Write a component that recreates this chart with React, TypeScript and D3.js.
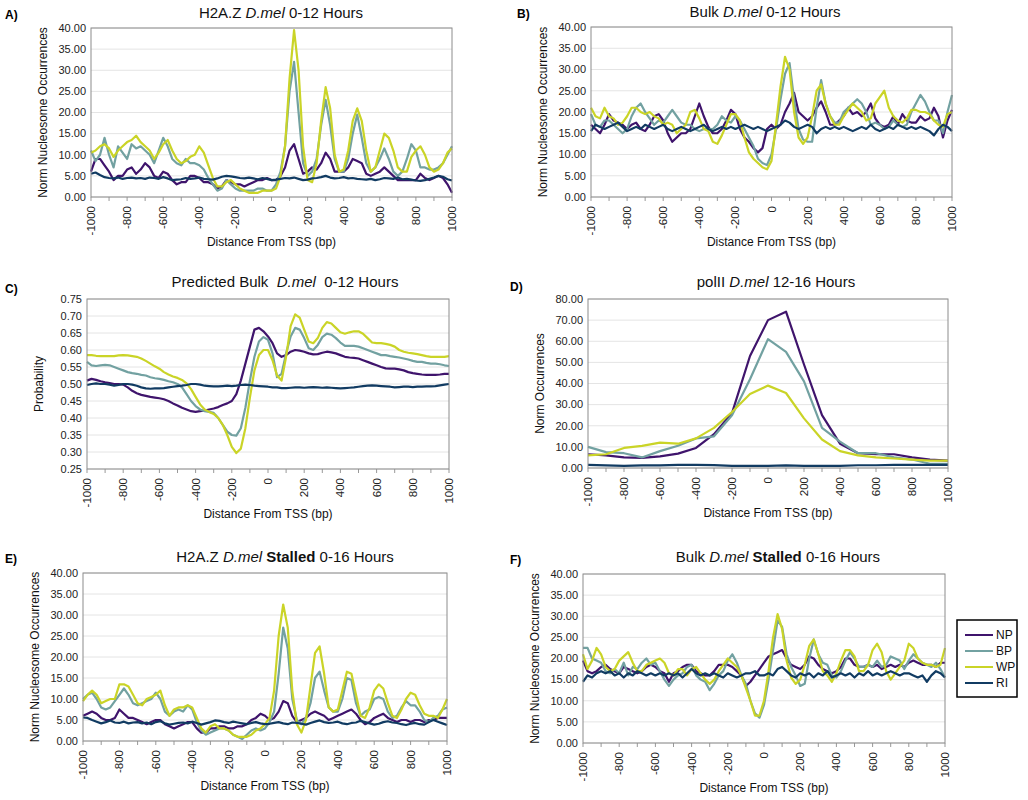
import React from 'react';
import * as d3 from 'd3';

// x positions (bp from TSS)
const positions = d3.range(-1000, 1001, 25);
const polPositions = d3.range(-1000, 1001, 100);
const xTickValues = d3.range(-1000, 1001, 100);
const xTickLabels = ['-1000', '-800', '-600', '-400', '-200', '0', '200', '400', '600', '800', '1000'];

const seriesNames = ['NP', 'BP', 'WP', 'RI'];
const seriesColors = ['#3f146c', '#72a1a1', '#cad427', '#113b62'];

// A) H2A.Z 0-12h
const aNP = [6, 9, 9, 7.5, 6, 4, 5, 5, 6.5, 7, 5.5, 6.5, 8, 7, 5, 4.5, 6, 5.5, 4, 3, 3.5, 3.5, 5, 5, 4.5, 3.5, 3.5, 3, 2, 2.5, 4, 3.5, 3, 3, 2.5, 3, 3.5, 4, 4, 4.5, 4, 4, 5, 7, 11, 12.5, 9, 5.5, 6, 7, 6.5, 8, 10.5, 9, 6, 6, 6, 7, 9, 8.5, 8, 5.5, 5, 5.5, 6, 7, 6, 5, 4, 4, 4, 4, 4, 5.5, 4.5, 4, 4.5, 5, 4.5, 3, 1];
const aBP = [11, 8.5, 10, 14, 10, 7, 12, 10.5, 9, 12.5, 11.5, 12, 11, 10, 8, 11, 14, 12, 9, 8, 7.5, 9, 8, 8, 7.5, 6.5, 4.5, 3, 1.5, 2, 4, 3, 2, 1.5, 1.5, 1.5, 1.5, 2, 2, 1.5, 1.5, 3, 6, 12, 25, 32, 20, 8, 5, 6, 9, 17, 23, 17, 9, 6, 6, 9, 15, 19.5, 14, 8, 6, 7, 9, 11.5, 9, 6, 5, 6, 9, 12.5, 11, 7, 7, 6.5, 6.5, 7, 8, 10, 12];
const aWP = [10.5, 11, 12, 12.5, 11.5, 9.5, 11, 12, 13, 13.5, 14.5, 13, 12, 11, 9, 10.5, 12.5, 13.5, 11, 9, 8, 8.5, 9.5, 10, 12, 10.5, 7.5, 4.5, 2.5, 2.5, 3.5, 4, 3, 2, 1.5, 1, 1, 1, 1.5, 1.5, 1.5, 2, 5, 12, 28, 39.5, 30, 12, 4, 3.5, 8, 18, 26, 21, 10, 6, 6.5, 11, 18, 21, 18, 11, 6, 7, 11, 15, 14, 11, 7, 6, 6, 9.5, 11, 12, 10, 7, 6, 6.5, 8, 10.5, 11.5];
const aRI = [5.5, 5.8, 5.2, 4.7, 4.5, 4.4, 4.6, 4.3, 4.5, 4.6, 4.4, 4.5, 4.3, 4.6, 4.5, 4.3, 4.7, 4.4, 4.0, 4.1, 4.2, 4.5, 4.3, 4.4, 4.6, 4.3, 4.2, 4.1, 4.4, 4.8, 5.0, 4.9, 4.7, 4.5, 4.4, 4.6, 4.4, 4.2, 4.5, 4.3, 4.0, 4.1, 4.3, 4.5, 4.4, 4.6, 4.3, 4.0, 4.1, 4.4, 4.5, 4.7, 5.0, 4.6, 4.4, 4.5, 4.7, 4.4, 4.5, 4.3, 4.2, 4.1, 4.3, 4.0, 4.2, 4.5, 4.4, 4.3, 4.6, 4.2, 4.3, 4.1, 3.9, 3.8, 4.0, 4.3, 4.6, 5.0, 4.8, 4.2, 3.9];

// B) Bulk 0-12h
const bNP = [17, 16, 15, 17, 19.5, 18, 17.5, 17, 16, 17, 17.5, 16, 15.5, 17, 19, 19.5, 18, 15, 13, 14, 15, 15, 16, 19, 22, 19, 16.5, 15, 15, 16, 18, 20.5, 19.5, 16, 14, 13, 11.5, 10.5, 11.5, 16, 17, 16, 17, 20, 22, 24.5, 20, 19, 18, 19, 21, 22.5, 20, 17, 17, 18, 19, 21, 19.5, 20, 19, 20, 22, 18.5, 17, 16.5, 17, 19, 17, 19.5, 18, 17.5, 17.5, 19, 18, 18.5, 21, 19, 14, 18, 20.5];
const bBP = [19.5, 17, 16.5, 18, 18, 17, 16, 15, 16, 19, 21, 22, 20, 18.5, 17, 18, 17.5, 19, 20.5, 19, 17.5, 17, 17, 16, 15.5, 16, 16, 16, 17, 19, 18, 17.5, 19, 18, 16, 14, 12, 9, 8, 7.5, 10, 16, 23, 29, 31.5, 23, 16, 13.5, 13, 13, 21, 27.5, 22, 19, 17.5, 17.5, 20, 21, 22, 23, 22, 20, 17, 17.5, 17, 16, 16.5, 18, 17, 16.5, 17, 20, 22, 24, 22.5, 20, 18, 18, 15, 20, 24];
const bWP = [21, 19, 18.5, 21, 19, 18.5, 17, 17.5, 19, 21, 21, 20, 19.5, 20, 19, 18.5, 17, 17.5, 17, 15, 16, 17, 20, 20.5, 18.5, 16, 15.5, 13, 12.5, 14.5, 17, 19.5, 19.5, 18, 14, 10.5, 9, 8, 7, 6.5, 8.5, 17, 26, 33, 30, 20, 14, 12.5, 14, 19, 25, 26.5, 22, 19, 17, 17, 19, 20.5, 22, 21, 20, 18, 18.5, 22, 23.5, 25, 21, 19, 18, 17.5, 18.5, 20.5, 20.5, 20, 20, 19.5, 18, 17, 16.5, 19.5, 20];
const bRI = [15.5, 17, 16.5, 16, 16.5, 17, 17.5, 16.5, 15.5, 16, 16.5, 16, 17, 16.5, 16, 16.5, 17, 16, 15.5, 16, 16.5, 16, 15.5, 16, 16.5, 17, 16, 15.5, 16, 16.5, 16, 16.5, 16, 16.5, 17, 16.5, 16, 16.5, 16, 15.5, 16, 16.5, 17, 18, 17.5, 16.5, 16, 16.5, 17, 16.5, 15, 16, 16.5, 16, 16.5, 16, 16.5, 16, 15.5, 16, 16.5, 16, 17, 16, 15.5, 16, 16.5, 16, 17, 16.5, 16, 16.5, 16, 16.5, 16, 15.5, 14.5, 16, 17, 16.5, 15.5];

// C) Predicted bulk probability
const cNP = [0.510, 0.515, 0.512, 0.508, 0.505, 0.503, 0.500, 0.500, 0.498, 0.490, 0.480, 0.473, 0.468, 0.465, 0.462, 0.460, 0.458, 0.455, 0.450, 0.443, 0.437, 0.430, 0.425, 0.420, 0.418, 0.420, 0.422, 0.425, 0.428, 0.432, 0.438, 0.443, 0.450, 0.470, 0.510, 0.560, 0.610, 0.660, 0.665, 0.655, 0.640, 0.620, 0.590, 0.580, 0.585, 0.595, 0.600, 0.598, 0.595, 0.590, 0.587, 0.588, 0.592, 0.595, 0.593, 0.590, 0.585, 0.580, 0.578, 0.577, 0.575, 0.570, 0.565, 0.560, 0.555, 0.550, 0.546, 0.545, 0.545, 0.543, 0.540, 0.535, 0.532, 0.530, 0.528, 0.527, 0.527, 0.527, 0.528, 0.530, 0.530];
const cBP = [0.565, 0.555, 0.553, 0.555, 0.556, 0.555, 0.550, 0.545, 0.540, 0.535, 0.532, 0.530, 0.527, 0.525, 0.520, 0.517, 0.515, 0.512, 0.508, 0.505, 0.500, 0.490, 0.470, 0.450, 0.435, 0.425, 0.420, 0.418, 0.415, 0.400, 0.380, 0.360, 0.350, 0.348, 0.370, 0.430, 0.510, 0.580, 0.625, 0.638, 0.630, 0.590, 0.520, 0.530, 0.590, 0.640, 0.665, 0.660, 0.635, 0.605, 0.600, 0.615, 0.638, 0.648, 0.645, 0.635, 0.622, 0.612, 0.612, 0.612, 0.610, 0.605, 0.600, 0.595, 0.590, 0.585, 0.585, 0.582, 0.580, 0.578, 0.575, 0.572, 0.568, 0.565, 0.565, 0.562, 0.560, 0.560, 0.558, 0.555, 0.553];
const cWP = [0.585, 0.585, 0.583, 0.582, 0.582, 0.582, 0.582, 0.584, 0.585, 0.584, 0.582, 0.580, 0.575, 0.568, 0.560, 0.552, 0.545, 0.535, 0.528, 0.522, 0.518, 0.512, 0.502, 0.485, 0.462, 0.440, 0.425, 0.418, 0.412, 0.400, 0.380, 0.350, 0.315, 0.297, 0.310, 0.370, 0.460, 0.540, 0.585, 0.600, 0.600, 0.570, 0.525, 0.510, 0.580, 0.670, 0.705, 0.695, 0.660, 0.625, 0.620, 0.635, 0.665, 0.682, 0.678, 0.665, 0.652, 0.648, 0.652, 0.655, 0.655, 0.648, 0.635, 0.622, 0.620, 0.620, 0.618, 0.615, 0.610, 0.600, 0.595, 0.592, 0.590, 0.588, 0.585, 0.582, 0.580, 0.580, 0.580, 0.580, 0.582];
const cRI = [0.497, 0.500, 0.502, 0.500, 0.500, 0.498, 0.495, 0.497, 0.500, 0.500, 0.498, 0.495, 0.490, 0.487, 0.486, 0.487, 0.487, 0.488, 0.490, 0.492, 0.494, 0.495, 0.497, 0.500, 0.500, 0.498, 0.495, 0.494, 0.493, 0.493, 0.494, 0.495, 0.494, 0.495, 0.497, 0.498, 0.497, 0.495, 0.494, 0.493, 0.492, 0.490, 0.490, 0.488, 0.488, 0.489, 0.490, 0.490, 0.489, 0.490, 0.491, 0.490, 0.489, 0.490, 0.489, 0.488, 0.487, 0.488, 0.489, 0.490, 0.492, 0.494, 0.495, 0.496, 0.495, 0.494, 0.493, 0.492, 0.490, 0.491, 0.492, 0.492, 0.491, 0.492, 0.492, 0.493, 0.493, 0.494, 0.496, 0.498, 0.500];

// D) polII 12-16h (100 bp bins)
const dNP = [6.5, 6, 5, 4.8, 5.5, 6.8, 9.5, 16, 26, 53, 70, 74, 49, 25, 11.5, 7, 6.5, 6.5, 5, 4, 3.5];
const dBP = [10, 7.5, 7, 5, 8, 10.5, 14, 15, 25, 42, 61, 55, 41, 19, 12.5, 7, 7, 5, 4, 2, 2];
const dWP = [6, 6.5, 9.5, 10.5, 12, 11.5, 14, 19, 26.5, 35, 39, 35.5, 23.5, 13.5, 8, 6, 5, 4.5, 4, 3.5, 3.5];
const dRI = [1.5, 1.2, 1, 1.2, 1.2, 1.5, 1.5, 1.4, 1, 1, 1, 1.2, 1, 1, 1, 1.3, 1.3, 1.5, 1.5, 1.5, 1.5];

// E) H2A.Z stalled 0-16h
const eNP = [6, 6.5, 7, 6.5, 5.5, 5, 5, 5.5, 7.5, 6.5, 5.5, 5.5, 5, 4.5, 4, 4.5, 5, 5, 4, 3.5, 3, 3.5, 4, 4.5, 4.5, 3, 2, 2, 3, 3, 3.5, 3.5, 3, 3, 3.5, 3.5, 4, 5, 5.5, 6.5, 6, 5, 5.5, 7, 9.5, 9, 6, 4.5, 5, 5.5, 6.5, 7, 6.5, 6, 5, 5.5, 6, 6.5, 7, 7.5, 6.5, 5, 4, 4.5, 5.5, 6, 6.5, 5.5, 5, 4.5, 5, 5, 4.5, 5, 5, 4.5, 5, 5, 5.5, 5.5, 5.5];
const eBP = [10, 11, 11.5, 10, 8, 7.5, 8, 9.5, 11, 12.5, 11, 9, 8.5, 9, 9.5, 10, 11.5, 10, 7, 6, 7, 7.5, 7, 8.5, 7.5, 4.5, 2.5, 1.5, 2, 2.5, 3, 3, 2.5, 1.5, 1, 0.5, 1.5, 2.5, 3, 2.5, 3, 4.5, 7, 16, 27, 22, 10, 5, 4, 5.5, 9, 15, 16.5, 12, 8, 7, 7, 10, 15, 14.5, 9, 6, 7, 7.5, 10, 10.5, 10, 7, 5.5, 6, 8, 9.5, 8.5, 8.5, 7, 5, 4.5, 5.5, 6, 7.5, 8];
const eWP = [9.5, 11, 12, 11, 9, 9.5, 10, 10, 13.5, 13.5, 13, 11, 9, 8.5, 10, 10.5, 11, 12, 8.5, 6, 7.5, 8, 8, 8.5, 8, 5.5, 3, 2, 3.5, 4, 3, 3, 2.5, 1.5, 1, 1, 1, 1.5, 2.5, 3, 4, 5.5, 12, 25, 32.5, 27, 12, 4, 2, 5, 13, 21, 22.5, 16, 8, 7, 7.5, 12, 16.5, 16, 11, 6, 5.5, 8, 12, 13.5, 12.5, 9, 6, 5.5, 7.5, 10, 11.5, 11, 8.5, 6.5, 6, 6, 5.5, 7.5, 10];
const eRI = [5.6, 5.5, 5.0, 4.6, 4.2, 4.5, 4.9, 4.4, 4.3, 4.6, 4.2, 4.4, 4.5, 4.2, 4.4, 4.0, 4.5, 4.7, 4.2, 3.9, 4.1, 4.3, 4.4, 4.2, 4.6, 4.3, 3.9, 4.2, 4.5, 4.9, 4.8, 4.5, 4.3, 4.6, 4.4, 4.2, 4.0, 4.3, 4.5, 4.2, 4.0, 4.1, 4.3, 4.5, 4.2, 4.0, 4.4, 4.3, 4.1, 3.9, 4.3, 4.6, 4.9, 4.5, 4.3, 4.4, 4.6, 4.2, 4.0, 4.3, 4.4, 4.8, 4.5, 4.2, 3.9, 4.1, 4.5, 4.7, 4.4, 4.3, 4.0, 3.8, 4.1, 4.3, 4.0, 3.9, 4.5, 5.0, 4.6, 4.2, 3.8];

// F) Bulk stalled 0-16h
const fNP = [19.5, 17, 16.5, 17, 18, 18.5, 17.5, 17, 16.5, 18, 17.5, 17, 16.5, 17, 18, 18.5, 18, 17, 16.5, 14.5, 16.5, 17, 18, 18.5, 18.5, 17, 16.5, 16, 16, 17, 18.5, 18.5, 18.5, 18, 17, 16, 13.5, 14.5, 16, 17.5, 19, 20.5, 21, 21.5, 22, 20, 18.5, 18, 17.5, 18.5, 20.5, 20, 18.5, 17.5, 17, 16.5, 17, 18, 20, 20, 18.5, 18, 18, 18.5, 18, 18.5, 17.5, 18, 18.5, 18, 18.5, 18, 19, 19.5, 19, 18.5, 18.5, 18.5, 18, 19, 19];
const fBP = [22.5, 22.5, 20, 19.5, 19, 17, 16.5, 17.5, 16.5, 19, 16, 18, 17.5, 19, 20, 18.5, 19, 17, 15, 13.5, 15, 16, 16.5, 18, 18.5, 16, 15, 14.5, 12.5, 14, 16, 17, 19.5, 21, 19, 16, 14, 10, 7, 6, 9, 15, 22, 29, 27.5, 21, 18, 16, 13.5, 14, 20, 24.5, 21, 19, 18.5, 16, 15.5, 17, 19.5, 21.5, 20, 18, 18, 18.5, 18, 19.5, 18, 18.5, 20.5, 20, 19.5, 17.5, 19.5, 21, 20, 19, 18.5, 18, 19, 17.5, 15.5];
const fWP = [21, 17.5, 19.5, 22.5, 21, 18, 17, 17.5, 19.5, 20.5, 21.5, 19, 17, 17, 18.5, 19, 19.5, 20, 19, 16.5, 16, 17.5, 17.5, 16, 17.5, 18, 16.5, 15, 14, 15, 17, 18.5, 20, 19, 18, 16, 13, 10, 6.5, 6.5, 10, 17, 25, 30.5, 27, 19.5, 15.5, 14, 15, 18.5, 23, 24.5, 21, 17, 16, 14.5, 16.5, 19.5, 22, 22, 20.5, 17, 17, 18.5, 22, 23.5, 21.5, 17, 15, 16.5, 18, 19.5, 23.5, 22.5, 20, 19, 18.5, 18.5, 18, 18.5, 22.5];
const fRI = [14.5, 16, 15.5, 16.5, 17, 16.5, 17, 16, 16.5, 15.5, 16.5, 16, 17, 16.5, 16, 16.5, 16, 16.5, 16, 16.5, 16, 16.5, 15.5, 16.5, 17.5, 16.5, 16, 16.5, 16, 16.5, 16, 15.5, 16.5, 16, 15.5, 16, 16.5, 16.5, 17, 16, 16, 16.5, 16, 17.5, 18, 17, 16, 15.5, 16.5, 16, 16.5, 15.5, 16.5, 16, 17, 15.5, 16, 16.5, 16, 16.5, 15.5, 16.5, 16, 17, 16, 16.5, 16, 16.5, 17, 16.5, 16, 16.5, 16.5, 16, 15.5, 16, 14.5, 16, 17, 16.5, 15.5];

const nucTicks = d3.range(0, 40.001, 5);
const probTicks = [0.25, 0.3, 0.35, 0.4, 0.45, 0.5, 0.55, 0.6, 0.65, 0.7, 0.75];
const polTicks = d3.range(0, 80.001, 10);

type TitlePart = { t: string; style?: 'i' | 'b' };

interface PanelSpec {
  letter: string;
  letterX: number;
  letterY: number;
  title: TitlePart[];
  titleX: number;
  titleY: number;
  left: number;
  right: number;
  top: number;
  bottom: number;
  yDomain: [number, number];
  yTicks: number[];
  yLabel: string;
  xs: number[];
  series: number[][];
}

const panels: PanelSpec[] = [
  {
    letter: 'A)', letterX: 5, letterY: 19,
    title: [{ t: 'H2A.Z ' }, { t: 'D.mel', style: 'i' }, { t: ' 0-12 Hours' }],
    titleX: 281, titleY: 18,
    left: 91, right: 452, top: 28, bottom: 197,
    yDomain: [0, 40], yTicks: nucTicks, yLabel: 'Norm Nucleosome Occurrences',
    xs: positions, series: [aNP, aBP, aWP, aRI],
  },
  {
    letter: 'B)', letterX: 517, letterY: 18,
    title: [{ t: 'Bulk ' }, { t: 'D.mel', style: 'i' }, { t: ' 0-12 Hours' }],
    titleX: 765, titleY: 17,
    left: 591, right: 952, top: 27, bottom: 197,
    yDomain: [0, 40], yTicks: nucTicks, yLabel: 'Norm Nucleosome Occurrences',
    xs: positions, series: [bNP, bBP, bWP, bRI],
  },
  {
    letter: 'C)', letterX: 5, letterY: 293,
    title: [{ t: 'Predicted Bulk\u00a0\u00a0' }, { t: 'D.mel', style: 'i' }, { t: '\u00a0\u00a00-12 Hours' }],
    titleX: 285, titleY: 287,
    left: 87, right: 449, top: 299, bottom: 469,
    yDomain: [0.25, 0.75], yTicks: probTicks, yLabel: 'Probability',
    xs: positions, series: [cNP, cBP, cWP, cRI],
  },
  {
    letter: 'D)', letterX: 510, letterY: 291,
    title: [{ t: 'polII ' }, { t: 'D.mel', style: 'i' }, { t: ' 12-16 Hours' }],
    titleX: 776, titleY: 287,
    left: 588, right: 948, top: 299, bottom: 468,
    yDomain: [0, 80], yTicks: polTicks, yLabel: 'Norm Occurrences',
    xs: polPositions, series: [dNP, dBP, dWP, dRI],
  },
  {
    letter: 'E)', letterX: 5, letterY: 563,
    title: [{ t: 'H2A.Z ' }, { t: 'D.mel', style: 'i' }, { t: ' ' }, { t: 'Stalled', style: 'b' }, { t: ' 0-16 Hours' }],
    titleX: 285, titleY: 562,
    left: 83, right: 447, top: 573, bottom: 741,
    yDomain: [0, 40], yTicks: nucTicks, yLabel: 'Norm Nucleosome Occurrences',
    xs: positions, series: [eNP, eBP, eWP, eRI],
  },
  {
    letter: 'F)', letterX: 510, letterY: 564,
    title: [{ t: 'Bulk ' }, { t: 'D.mel', style: 'i' }, { t: ' ' }, { t: 'Stalled', style: 'b' }, { t: ' 0-16 Hours' }],
    titleX: 778, titleY: 562,
    left: 583, right: 945, top: 574, bottom: 743,
    yDomain: [0, 40], yTicks: nucTicks, yLabel: 'Norm Nucleosome Occurrences',
    xs: positions, series: [fNP, fBP, fWP, fRI],
  },
];

const font = '"Liberation Sans", Arial, Helvetica, sans-serif';

function Panel({ p }: { p: PanelSpec }) {
  const x = d3.scaleLinear().domain([-1000, 1000]).range([p.left, p.right]);
  const y = d3.scaleLinear().domain(p.yDomain).range([p.bottom, p.top]);
  const line = d3.line<number>()
    .x((_, i) => x(p.xs[i]))
    .y(d => y(d));
  const fmt = d3.format('.2f');
  const midX = (p.left + p.right) / 2;
  const midY = (p.top + p.bottom) / 2;

  return (
    <g>
      <text x={p.letterX} y={p.letterY} fontSize={12} fontWeight="bold" fill="#000">{p.letter}</text>
      <text x={p.titleX} y={p.titleY} fontSize={15} textAnchor="middle" fill="#111">
        {p.title.map((part, i) => (
          <tspan key={i}
            fontStyle={part.style === 'i' ? 'italic' : 'normal'}
            fontWeight={part.style === 'b' ? 'bold' : 'normal'}>{part.t}</tspan>
        ))}
      </text>

      {/* gridlines */}
      {p.yTicks.map(t => (
        <line key={'g' + t} x1={p.left} x2={p.right} y1={y(t)} y2={y(t)} stroke="#e4e4e4" strokeWidth={1} />
      ))}

      {/* y tick labels */}
      {p.yTicks.map(t => (
        <text key={'y' + t} x={p.left - 5} y={y(t)} dy="0.35em" fontSize={11} textAnchor="end" fill="#222">{fmt(t)}</text>
      ))}

      {/* x ticks */}
      {xTickValues.map(t => (
        <line key={'x' + t} x1={x(t)} x2={x(t)} y1={p.bottom} y2={p.bottom + 4} stroke="#999" />
      ))}
      {xTickLabels.map(lbl => (
        <text key={'xl' + lbl} transform={`translate(${x(+lbl)},${p.bottom + 9}) rotate(-90)`}
          dy="0.35em" fontSize={11.5} textAnchor="end" fill="#222">{lbl}</text>
      ))}

      {/* series */}
      {p.series.map((s, i) => (
        <path key={seriesNames[i]} d={line(s) || ''} fill="none" stroke={seriesColors[i]} strokeWidth={2.2} strokeLinejoin="round" />
      ))}

      <rect x={p.left} y={p.top} width={p.right - p.left} height={p.bottom - p.top} fill="none" stroke="#8c8c8c" strokeWidth={1} />

      <text transform={`translate(${p.left - 48},${midY}) rotate(-90)`} textAnchor="middle" dy="0.35em" fontSize={12} fill="#111">{p.yLabel}</text>
      <text x={midX} y={p.bottom + 49} textAnchor="middle" fontSize={12} fill="#111">Distance From TSS (bp)</text>
    </g>
  );
}

function Legend() {
  const x0 = 957, y0 = 620, w = 60, h = 77;
  return (
    <g>
      <rect x={x0} y={y0} width={w} height={h} fill="#fff" stroke="#000" strokeWidth={1.5} />
      {seriesNames.map((n, i) => {
        const yy = y0 + 15 + i * 16;
        return (
          <g key={n}>
            <line x1={x0 + 8} x2={x0 + 36} y1={yy} y2={yy} stroke={seriesColors[i]} strokeWidth={2} />
            <text x={x0 + 39} y={yy} dy="0.35em" fontSize={12} fill="#111">{n}</text>
          </g>
        );
      })}
    </g>
  );
}

export default function App() {
  return (
    <svg width={1028} height={800} style={{ position: 'absolute', left: 0, top: 0, background: '#fff' }}
      fontFamily={font}>
      <rect width={1028} height={800} fill="#fff" />
      {panels.map(p => <Panel key={p.letter} p={p} />)}
      <Legend />
    </svg>
  );
}
